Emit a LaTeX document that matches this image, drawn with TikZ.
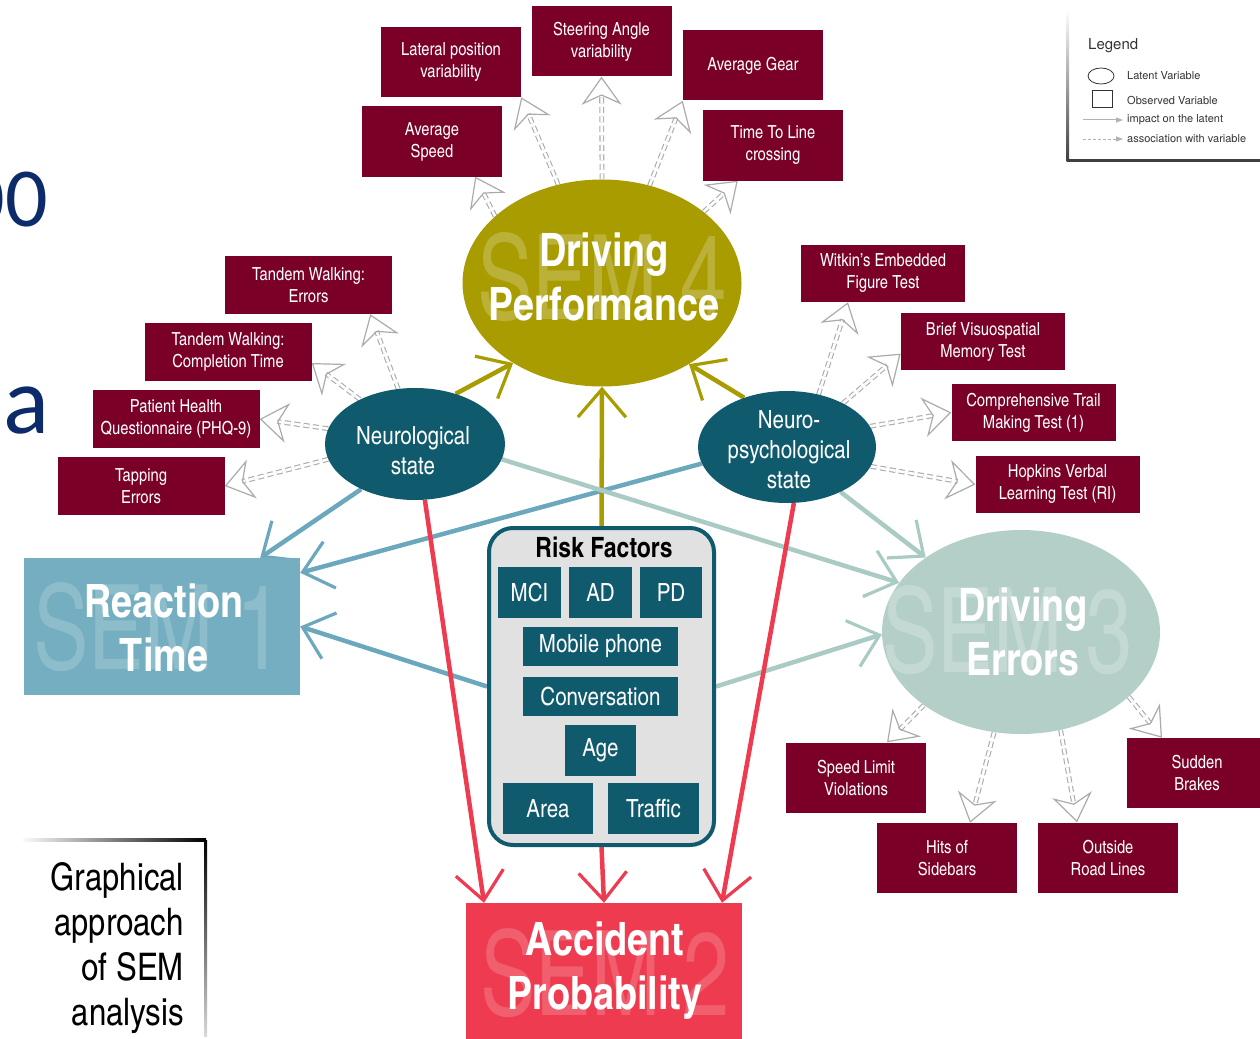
\documentclass[tikz,border=0pt]{standalone}
\usepackage{fontspec}
\usetikzlibrary{arrows.meta,shapes.geometric,decorations.markings,backgrounds}
\IfFontExistsTF{TeX Gyre Heros Cn}
 {\setmainfont{TeX Gyre Heros Cn}\newfontfamily\wmfont[FakeStretch=0.86]{TeX Gyre Heros Cn}}
 {\setmainfont[FakeStretch=0.82]{TeX Gyre Heros}\newfontfamily\wmfont[FakeStretch=0.7]{TeX Gyre Heros}}
\newfontfamily\legfont{TeX Gyre Heros}
\newfontfamily\calfont{Carlito}
\definecolor{maroonc}{HTML}{7B0028}
\definecolor{olivec}{HTML}{A99C00}
\definecolor{tealc}{HTML}{0F5B6D}
\definecolor{rtc}{HTML}{74AEC0}
\definecolor{dec}{HTML}{B4CFC8}
\definecolor{accc}{HTML}{EE3B4F}
\definecolor{rfgray}{HTML}{E1E1E1}
\definecolor{bluearr}{HTML}{6BA8BD}
\definecolor{greenarr}{HTML}{A9CBC4}
\definecolor{redarr}{HTML}{EE3B50}
\definecolor{dgray}{HTML}{ABABAB}
\definecolor{navyc}{HTML}{0D2A6B}
\begin{document}
\begin{tikzpicture}[x=1pt,y=-1pt,
  obs/.style={rectangle, fill=maroonc, text=white, minimum width=140pt, minimum height=70pt, inner sep=1pt, align=center, font=\fontsize{18}{22}\selectfont},
  obsl/.style={obs, minimum width=167pt, minimum height=58pt},
  obsr/.style={obs, minimum width=164pt, minimum height=57pt},
  latshape/.style={ellipse, inner sep=0pt},
  biglabel/.style={text=white, align=center, font=\bfseries\fontsize{46}{54}\selectfont, inner sep=0pt},
  midlabel/.style={text=white, align=center, font=\fontsize{25}{30}\selectfont, inner sep=0pt},
  wm/.style={text=white, text opacity=0.22, font=\wmfont\fontsize{118}{118}\selectfont, inner sep=0pt},
  rfbox/.style={rectangle, fill=tealc, text=white, inner sep=0pt, font=\fontsize{25}{25}\selectfont},
  impact/.style={line width=4.5pt, -{Straight Barb[length=28pt, width=48pt, line width=3.2pt]}},
  assoc/.style={draw=dgray, line width=1.1pt, dash pattern=on 6pt off 3.5pt, double=white, double distance=2.6pt, shorten >=18pt,
    postaction={decorate, decoration={markings, mark=at position 1 with {\arrow[dgray, line width=1.2pt]{Stealth[open, length=28pt, width=40pt, inset=9pt]}}}}},
  legtext/.style={anchor=west, inner sep=0pt, font=\legfont\fontsize{11}{13}\selectfont, text=black!80}
]
\useasboundingbox (0,0) rectangle (1260,1038);

% background slide fragments
\node[anchor=base east, inner sep=0pt, text=navyc, font=\calfont\fontsize{84}{84}\selectfont] (frag1) at (48,226) {00};
\node[anchor=base west, inner sep=0pt, text=navyc, font=\calfont\fontsize{96}{96}\selectfont] (frag2) at (3,433) {a};

% legend
\shade[top color=white, bottom color=black!75] (1066.5,10) rectangle (1069,161);
\fill[black!75] (1066.5,159) rectangle (1260,161.5);
\node[anchor=west, inner sep=0pt, font=\legfont\fontsize{15}{17}\selectfont, text=black!80] (legt) at (1088,46) {Legend};
\node[ellipse, draw=black!80, line width=0.8pt, minimum width=26pt, minimum height=16pt, inner sep=0pt] (lell) at (1101,76) {};
\node[rectangle, draw=black!80, line width=0.8pt, minimum width=20pt, minimum height=17pt, inner sep=0pt] (lsq) at (1102,99) {};
\coordinate (la1) at (1083,120); \coordinate (la2) at (1123,120);
\coordinate (lb1) at (1083,139); \coordinate (lb2) at (1123,139);
\draw[gray!60, line width=1pt, -{Triangle[length=7pt,width=5pt]}] (la1) -- (la2);
\draw[gray!60, line width=1pt, dash pattern=on 3pt off 2pt, -{Triangle[length=7pt,width=5pt]}] (lb1) -- (lb2);
\node[legtext] (lt1) at (1127,76) {Latent Variable};
\node[legtext] (lt2) at (1127,100) {Observed Variable};
\node[legtext] (lt3) at (1127,120) {impact on the latent};
\node[legtext] (lt4) at (1127,139) {association with variable};

% graphical approach caption
\shade[left color=white, right color=black] (20,838.5) rectangle (206,841.5);
\shade[top color=black, bottom color=black!15] (204,840) rectangle (207,1036);
\node[anchor=north east, align=right, inner sep=0pt, font=\fontsize{38}{45}\selectfont] (ga) at (184,862) {Graphical\\approach\\of SEM\\analysis};

% observed variables: driving performance
\node[obs] (latpos) at (451,62) {Lateral position\\variability};
\node[obs] (steer) at (601.5,41.5) {Steering Angle\\variability};
\node[obs] (gear) at (753,65.5) {Average Gear};
\node[obs] (aspeed) at (432,141.5) {Average\\Speed};
\node[obs] (ttl) at (773,145.5) {Time To Line\\crossing};

% observed: neurological
\node[obsl] (twe) at (308.5,285) {Tandem Walking:\\Errors};
\node[obsl] (twc) at (228,352) {Tandem Walking:\\Completion Time};
\node[obsl] (phq) at (176,419) {Patient Health\\Questionnaire (PHQ-9)};
\node[obsl] (tap) at (141,486) {Tapping\\Errors};

% observed: neuropsychological
\node[obsr] (wit) at (883,273.5) {Witkin’s Embedded\\Figure Test};
\node[obsr] (bvm) at (983,341.5) {Brief Visuospatial\\Memory Test};
\node[obsr] (ctm) at (1033.5,412.5) {Comprehensive Trail\\Making Test (1)};
\node[obsr] (hvl) at (1057.5,484.5) {Hopkins Verbal\\Learning Test (RI)};

% observed: driving errors
\node[obs] (slv) at (856,777.5) {Speed Limit\\Violations};
\node[obs] (hos) at (947,858) {Hits of\\Sidebars};
\node[obs] (orl) at (1108,857.5) {Outside\\Road Lines};
\node[obs] (sb) at (1197,773) {Sudden\\Brakes};

% latent variables
\node[latshape, fill=olivec, minimum width=279pt, minimum height=207pt] (dp) at (602,283) {};
\node[wm] (wm4) at (602,277) {SEM 4};
\node[biglabel] (dpl) at (604,277) {Driving\\Performance};

\node[latshape, fill=tealc, minimum width=180pt, minimum height=112pt] (neuro) at (415,444) {};
\node[midlabel] (neurol) at (413,451) {Neurological\\state};

\node[latshape, fill=tealc, minimum width=178pt, minimum height=112pt] (npsy) at (787,447) {};
\node[midlabel] (npsyl) at (789,450) {Neuro-\\psychological\\state};

\node[latshape, fill=dec, minimum width=278pt, minimum height=204pt] (de) at (1021,632) {};
\node[wm] (wm3) at (1007,630) {SEM 3};
\node[biglabel] (del) at (1023,632) {Driving\\Errors};

\node[rectangle, fill=rtc, minimum width=276pt, minimum height=137pt, inner sep=0pt] (rt) at (162,626.5) {};
\node[wm, text opacity=0.18] (wm1) at (158,627) {SEM 1};
\node[biglabel] (rtl) at (164,627.5) {Reaction\\Time};

\node[rectangle, fill=accc, minimum width=276pt, minimum height=142pt, inner sep=0pt] (acc) at (604,974) {};
\node[wm, text opacity=0.18] (wm2) at (605,973) {SEM 2};
\node[biglabel] (accl) at (605,970.5) {Accident\\Probability};

% risk factors
\node[rectangle, rounded corners=24pt, draw=tealc, line width=4pt, fill=rfgray, minimum width=225pt, minimum height=317pt, inner sep=0pt] (risk) at (601.5,686.5) {};
\node[inner sep=0pt, font=\bfseries\fontsize{28}{28}\selectfont] (rtitle) at (604,547) {Risk Factors};
\node[rfbox, minimum width=63pt, minimum height=51pt] (mci) at (529.5,592.5) {MCI};
\node[rfbox, minimum width=63pt, minimum height=51pt] (ad) at (600.5,592.5) {AD};
\node[rfbox, minimum width=62pt, minimum height=51pt] (pd) at (671,592.5) {PD};
\node[rfbox, minimum width=155pt, minimum height=39pt] (mob) at (600.5,646.5) {Mobile phone};
\node[rfbox, minimum width=155pt, minimum height=39pt] (conv) at (600.5,696.5) {Conversation};
\node[rfbox, minimum width=71pt, minimum height=51pt] (age) at (600.5,750.5) {Age};
\node[rfbox, minimum width=90pt, minimum height=51pt] (area) at (548,808.5) {Area};
\node[rfbox, minimum width=91pt, minimum height=51pt] (traffic) at (653.5,808.5) {Traffic};

\begin{pgfonlayer}{background}
% impact arrows
\draw[impact, olivec] (neuro.51) -- (dp.222);
\draw[impact, olivec] (risk.north) -- (dp.south);
\draw[impact, olivec] (npsy.131) -- (dp.317);
\draw[impact, bluearr] (neuro.220) -- ([xshift=-40pt]rt.north east);
\draw[impact, bluearr] (npsy.191) -- ([yshift=-15pt]rt.north east);
\draw[impact, bluearr] (risk.west) -- (rt.east);
\draw[impact, greenarr] (neuro.-10) -- (de.158);
\draw[impact, greenarr] (npsy.-40) -- (de.142);
\draw[impact, greenarr] (risk.east) -- (de.181);
\draw[impact, redarr] (neuro.-80) -- ([xshift=-120pt]acc.north);
\draw[impact, redarr] (npsy.-83) -- ([xshift=118pt]acc.north);
\draw[impact, redarr] (risk.south) -- (acc.north);
% association arrows
\draw[assoc] (dp.148) -- ([xshift=-27pt]aspeed.south east);
\draw[assoc] (dp.114) -- (latpos.south east);
\draw[assoc] (dp.north) -- (steer.south);
\draw[assoc] (dp.64) -- (gear.south west);
\draw[assoc] (dp.35) -- ([xshift=35pt]ttl.south west);
\draw[assoc] (neuro.107) -- ([xshift=-22pt]twe.south east);
\draw[assoc] (neuro.141) -- ([yshift=-11pt]twc.east);
\draw[assoc] (neuro.170) -- (phq.east);
\draw[assoc] (neuro.190) -- (tap.east);
\draw[assoc] (npsy.59) -- ([xshift=-35pt]wit.south);
\draw[assoc] (npsy.38) -- ([yshift=-12pt]bvm.west);
\draw[assoc] (npsy.14) -- (ctm.west);
\draw[assoc] (npsy.-13) -- (hvl.west);
\draw[assoc] (de.217) -- ([xshift=31pt]slv.north);
\draw[assoc] (de.255) -- ([xshift=23pt]hos.north);
\draw[assoc] (de.292) -- ([xshift=-31pt]orl.north);
\draw[assoc] (de.-31) -- ([xshift=-35pt]sb.north);
\end{pgfonlayer}
\end{tikzpicture}
\end{document}
